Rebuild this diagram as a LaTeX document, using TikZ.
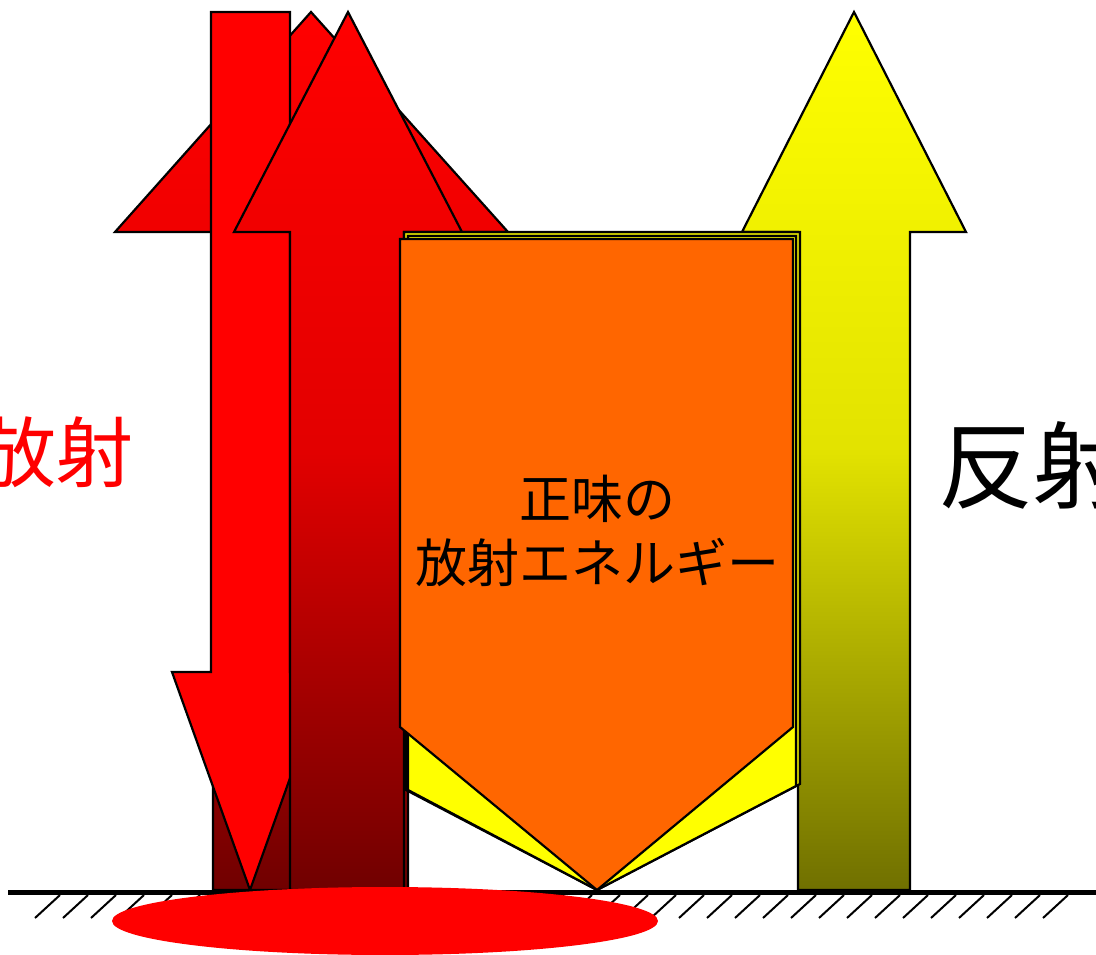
\documentclass[tikz,border=0pt]{standalone}
\usepackage{fontspec}
\newfontfamily\cjk{Noto Sans CJK JP}
\definecolor{dkred}{HTML}{700000}
\definecolor{olivebot}{HTML}{707000}
\definecolor{orng}{HTML}{FF6600}
\definecolor{yel}{HTML}{FFFF00}
\definecolor{redtop}{HTML}{FF0000}
\begin{document}
\begin{tikzpicture}[x=1pt,y=-1pt,
  outl/.style={draw=black,line width=2.2pt,line join=miter},
  hatchline/.style={line width=2pt},
  lbl/.style={inner sep=0pt,font=\cjk}]
\useasboundingbox (0,0) rectangle (1096,955);
% back big red up arrow
\path[outl,top color=redtop,bottom color=dkred,middle color=redtop!80!dkred]
  (311,12) -- (508,232) -- (408,232) -- (408,890) -- (213,890) -- (213,232) -- (115,232) -- cycle;
% down red arrow
\path[outl,fill=redtop]
  (211,12) -- (290,12) -- (290,672) -- (328,672) -- (250,890) -- (172,672) -- (211,672) -- cycle;
% front red up arrow
\path[outl,top color=redtop,bottom color=dkred,middle color=redtop!80!dkred]
  (348,12) -- (462,232) -- (404,232) -- (404,890) -- (290,890) -- (290,232) -- (234,232) -- cycle;
% yellow up arrow
\path[outl,top color=yel,bottom color=olivebot,middle color=yel!80!olivebot]
  (854,12) -- (966,232) -- (910,232) -- (910,890) -- (798,890) -- (798,232) -- (742,232) -- cycle;
% yellow pentagons behind
\path[outl,fill=yel!85!black]
  (404,232) -- (800,232) -- (800,784) -- (597,890) -- (406,790) -- cycle;
\path[outl,fill=yel]
  (408,236) -- (796,236) -- (796,786) -- (597,890) -- (408,790) -- cycle;
% orange pentagon
\path[outl,fill=orng]
  (400,239) -- (793,239) -- (793,727) -- (597,890) -- (400,727) -- cycle;
% ground
\draw[line width=5pt] (8,892) -- (1096,892);
\foreach \i in {0,...,36} {
  \draw[hatchline] ({35+28*\i},918) -- ++(25,-23);
}
% red ellipse
\fill[red] (385,921) ellipse [x radius=273, y radius=34];
% labels
\node[lbl,align=center,font=\cjk\fontsize{52}{64}\selectfont] (net) at (597,531) {正味の\\放射エネルギー};
\node[lbl,text=red,font=\cjk\fontsize{77}{77}\selectfont] (emit) at (57,452) {放射};
\node[lbl,anchor=west,font=\cjk\fontsize{95}{95}\selectfont] (refl) at (938,465) {反射};
\end{tikzpicture}
\end{document}
